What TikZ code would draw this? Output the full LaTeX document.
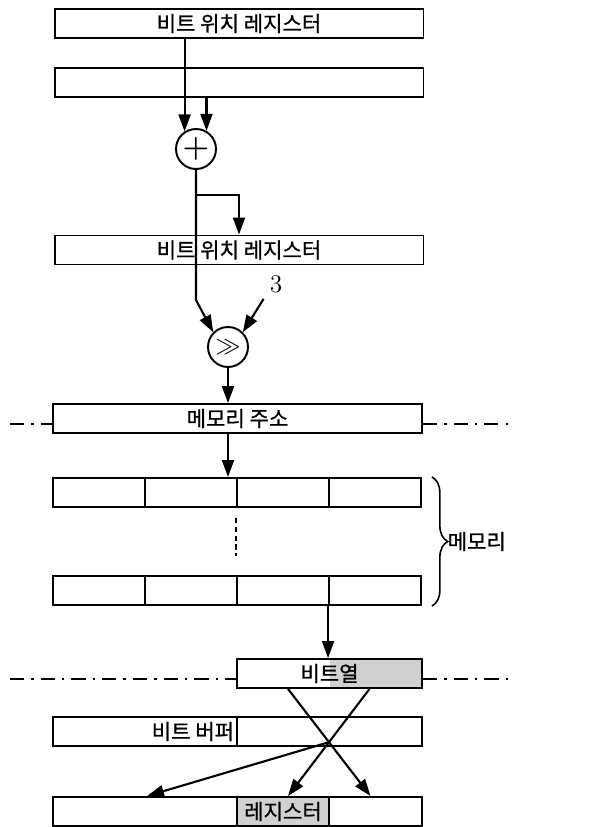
\documentclass[tikz,border=0pt]{standalone}
\usepackage{fontspec}
\newfontfamily\kr[FakeBold=0.9]{Noto Sans CJK KR}
\usetikzlibrary{arrows.meta,positioning,calc,decorations.pathreplacing,backgrounds}

\begin{document}
\begin{tikzpicture}[x=0.02cm, y=-0.02cm,
    reg/.style={rectangle, draw, line width=1.1pt, minimum width=7.38cm,
                minimum height=0.58cm, inner sep=0pt, font=\kr\fontsize{12}{14}\selectfont},
    cell/.style={reg, minimum width=1.84cm},
    wcell/.style={reg, minimum width=3.68cm},
    op/.style={circle, draw, line width=1.1pt, minimum size=0.8cm, inner sep=0pt},
    arr/.style={line width=1.2pt, -{Triangle[length=3.4mm, width=2.4mm]}},
    dashdot/.style={line width=1pt, dash pattern=on 8pt off 4pt on 1.5pt off 4pt},
    shade/.style={fill=black!18},
]
    \useasboundingbox (0,0) rectangle (614,827);

    % Bit position registers and adder
    \node[reg] (pos1) at (239,23.5) {비트 위치 레지스터};
    \node[reg] (inc) at (239,82.5) {};
    \node[op] (adder) at (196,149) {\LARGE\textbf{+}};
    \node[reg] (pos2) at (239,250) {비트 위치 레지스터};
    \node[op] (shift) at (228,347) {\Large$\gg$};
    \node[font=\Large] (three) at (276,284) {3};
    \node[reg] (addr) at (237.5,418.5) {메모리 주소};

    \draw[arr] (adder.123 |- pos1.south) -- (adder.123);
    \draw[arr] (adder.60 |- inc.south) -- (adder.60);
    \draw[arr] (adder.south) -- (adder.south |- 0,300) -- (shift.135);
    \draw[arr] (adder.south |- 0,195) -| (pos2.north);
    \draw[arr] (three.south west) -- (shift.45);
    \draw[arr] (shift.south) -- (shift.south |- addr.north);

    % Memory
    \foreach \i in {1,...,4} {
        \node[cell] (ma\i) at (7+92*\i,492.5) {};
        \node[cell] (mb\i) at (7+92*\i,590.5) {};
    }
    \draw[arr] (addr.south -| shift.south) -- (ma2.north east -| shift.south);
    \draw[densely dashed, thick] ([yshift=-0.2cm]ma3.south west) -- ([yshift=0.38cm]mb3.north west);
    \draw[decorate, decoration={brace, amplitude=9pt}, line width=0.9pt]
        ([xshift=0.2cm]ma4.north east) -- ([xshift=0.2cm]mb4.south east)
        node[midway, right=0.3cm, inner sep=0pt, font=\kr\fontsize{12}{14}\selectfont] (memlbl) {메모리};

    % Bit stream, buffer and output register
    \node[reg, minimum width=3.7cm] (bits) at (329.5,673.5) {비트열};
    \begin{scope}[on background layer]
        \fill[shade] (bits.north) rectangle (bits.south east);
    \end{scope}
    \draw[arr] (mb4.south west) -- (mb4.south west |- bits.north);

    \node[wcell] (buf1) at (145,731.5) {};
    \node[reg, minimum width=3.7cm] (buf2) at (329.5,731.5) {};
    \node[anchor=east, inner sep=2pt, font=\kr\fontsize{12}{14}\selectfont] (buftxt) at (buf1.east) {비트 버퍼};

    \node[wcell] (out1) at (145,811.5) {};
    \node[cell, shade] (out2) at (283,811.5) {레지스터};
    \node[cell, minimum width=1.86cm] (out3) at (375.5,811.5) {};

    \draw[dashdot] (10,424) -- (addr.west |- 0,424);
    \draw[dashdot] (addr.east |- 0,424) -- (510,424);
    \draw[dashdot] (10,679) -- (bits.west |- 0,679);
    \draw[dashdot] (bits.east |- 0,679) -- (514,679);

    \coordinate (c1) at ([xshift=-0.83cm]bits.south);
    \coordinate (c2) at ([xshift=0.8cm]bits.south);
    \coordinate (d1) at ([xshift=0.1cm]out2.north);
    \coordinate (d2) at ([xshift=-0.1cm]out3.north);
    \draw[arr] (c1) -- (d2);
    \draw[arr] (c2) -- (d1);
    \coordinate (cx) at (intersection of c1--d2 and c2--d1);
    \draw[arr] (cx) -- ([xshift=0.04cm]out1.north);
\end{tikzpicture}
\end{document}
